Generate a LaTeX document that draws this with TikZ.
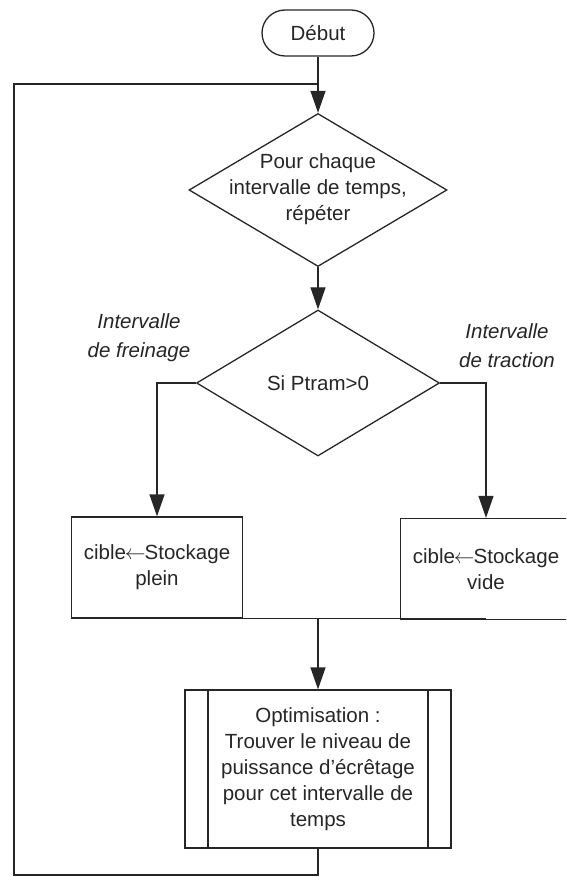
\documentclass[tikz,border=0pt]{standalone}
\usepackage{fontspec}
\setmainfont{Liberation Sans}
\usepackage{tikz}
\usetikzlibrary{arrows.meta, shapes.geometric, positioning}

\tikzset{
    base/.style={draw=black!85, line width=1.3pt, text=black!85, font=\fontsize{20.5}{26}\selectfont, align=center, inner sep=0pt},
    debut/.style={base, rectangle, rounded corners=23pt, minimum width=112pt, minimum height=46pt},
    decision/.style={base, diamond},
    tache/.style={base, rectangle, minimum width=171pt, minimum height=101pt},
    sousprog/.style={base, rectangle, minimum width=266pt, minimum height=158pt,
        path picture={
            \draw[line width=1.3pt, black!85] ([xshift=23pt]path picture bounding box.north west) -- ([xshift=23pt]path picture bounding box.south west);
            \draw[line width=1.3pt, black!85] ([xshift=-23pt]path picture bounding box.north east) -- ([xshift=-23pt]path picture bounding box.south east);
        }},
    texte/.style={text=black!85, font=\fontsize{20.5}{26}\selectfont, align=center, inner sep=0pt},
    branche/.style={texte, font=\fontsize{20.5}{29}\selectfont\itshape}
}
\newcommand{\fleche}{\kern-1pt$\leftarrow$\kern-1pt}

\begin{document}
\begin{tikzpicture}[x=1pt, y=-1pt, >={Triangle[width=15pt,length=22pt]}, line width=1.3pt, draw=black!85]
    \useasboundingbox (0,0) rectangle (566,877);
    \clip (0,0) rectangle (566,877);
    % noeuds
    \node[debut] (debut) at (318,33) {Début};
    \node[decision, minimum width=258pt, minimum height=153pt] (boucle) at (318,190) {};
    \node[texte] (boucle-t) at (318,189) {Pour chaque\\intervalle de temps,\\répéter};
    \node[decision, minimum width=243pt, minimum height=146pt] (test) at (318,383) {Si Ptram>0};
    \node[tache] (plein) at (157,567.5) {cible\fleche Stockage\\plein};
    \node[tache] (vide) at (486,569) {cible\fleche Stockage\\vide};
    \node[sousprog] (optim) at (318,769) {Optimisation :\\Trouver le niveau de\\puissance d’écrêtage\\pour cet intervalle de\\temps};
    \node[branche] (freinage) at (139,338) {Intervalle\\de freinage};
    \node[branche] (traction) at (507,346) {Intervalle\\de traction};
    % liaisons
    \coordinate (entree) at (318,84);
    \coordinate (retour) at (14,875);
    \coordinate (jonction) at (plein.south -| optim.north);
    \draw[->] (debut) -- (boucle);
    \draw[->] (boucle) -- (test);
    \draw[->] (test.west) -| (plein);
    \draw[->] (test.east) -| (vide);
    \draw (plein.south) -- (plein.south -| vide.south);
    \draw[->] (jonction) -- (optim);
    \draw (optim) |- (retour) |- (entree);
\end{tikzpicture}
\end{document}
